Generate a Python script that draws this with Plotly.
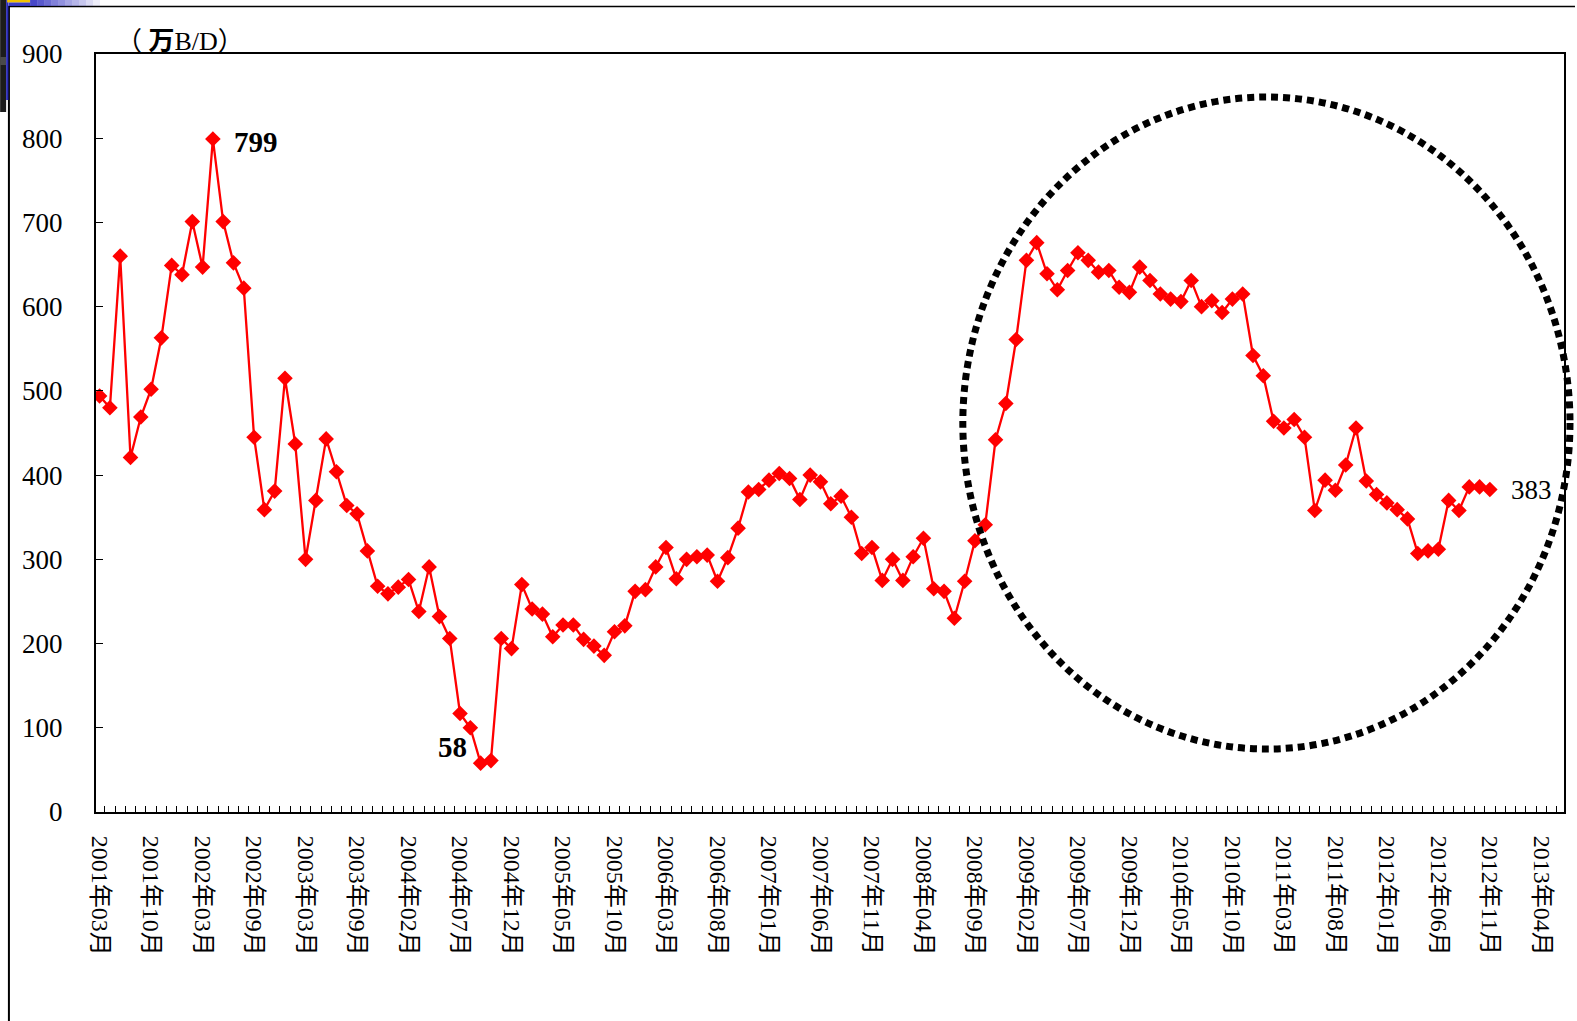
import plotly.graph_objects as go

# Monthly series (万B/D), one point per reported month
TICK_LABELS = [
    "2001年03月", "2001年10月", "2002年03月", "2002年09月", "2003年03月",
    "2003年09月", "2004年02月", "2004年07月", "2004年12月", "2005年05月",
    "2005年10月", "2006年03月", "2006年08月", "2007年01月", "2007年06月",
    "2007年11月", "2008年04月", "2008年09月", "2009年02月", "2009年07月",
    "2009年12月", "2010年05月", "2010年10月", "2011年03月", "2011年08月",
    "2012年01月", "2012年06月", "2012年11月", "2013年04月",
]
LABEL_STEP = 5          # one tick label every 5 reported months
N_SLOTS = 142           # category slots on the axis

VALUES = [
    494, 480, 660, 421, 469, 502, 563, 649, 638, 701,
    647, 799, 701, 652, 622, 445, 359, 381, 515, 437,
    300, 370, 443, 404, 364, 354, 310, 268, 259, 267,
    276, 238, 291, 232, 206, 117, 100, 58, 61, 206,
    194, 270, 241, 235, 208, 222, 222, 205, 197, 186,
    214, 221, 262, 264, 291, 314, 277, 300, 303, 305,
    274, 302, 337, 380, 383, 394, 402, 396, 371, 400,
    392, 366, 375, 350, 307, 314, 275, 300, 275, 303,
    325, 265, 262, 230, 274, 322, 341, 442, 485, 561,
    655, 676, 639, 620, 643, 664, 655, 641, 643, 623,
    617, 647, 631, 615, 609, 606, 631, 600, 607, 593,
    609, 615, 542, 518, 464, 456, 466, 445, 358, 394,
    382, 412, 456, 393, 377, 367, 359, 348, 307, 310,
    312, 370, 358, 386, 386, 383,
]

PEAK_IDX = 11
LOW_IDX = 37
LAST_IDX = len(VALUES) - 1

SERIF = "Liberation Serif, Noto Sans CJK SC, serif"
RED = "#FF0000"

W, H = 1577, 1021
ML, MR, MT, MB = 96, 11, 54, 209
PW, PH = W - ML - MR, H - MT - MB


def px(xpix):
    return (xpix - ML) / PW


def py(ypix):
    return (H - MB - ypix) / PH


x = list(range(len(VALUES)))

fig = go.Figure()
fig.add_trace(go.Scatter(
    x=x, y=VALUES, mode="lines+markers",
    line=dict(color=RED, width=2.3),
    marker=dict(symbol="diamond", size=12, color=RED, line=dict(width=0)),
    hoverinfo="y", showlegend=False,
))

annotations = [
    dict(x=PEAK_IDX, y=VALUES[PEAK_IDX], text=f"<b>{VALUES[PEAK_IDX]}</b>",
         xanchor="left", yanchor="middle", xshift=19, yshift=-3, showarrow=False,
         font=dict(family=SERIF, size=29, color="black")),
    dict(x=LOW_IDX, y=VALUES[LOW_IDX], text=f"<b>{VALUES[LOW_IDX]}</b>",
         xanchor="right", yanchor="middle", xshift=-12, yshift=16, showarrow=False,
         font=dict(family=SERIF, size=29, color="black")),
    dict(x=LAST_IDX, y=VALUES[LAST_IDX], text=f"{VALUES[LAST_IDX]}",
         xanchor="left", yanchor="middle", xshift=19, yshift=-1, showarrow=False,
         font=dict(family=SERIF, size=27, color="black")),
    dict(xref="paper", yref="paper", x=px(114), y=py(41), text="（ <b>万</b>B/D）",
         xanchor="left", yanchor="middle", showarrow=False,
         font=dict(family=SERIF, size=26, color="black")),
]

shapes = [
    # dotted ellipse highlighting the recent period
    dict(type="circle", xref="paper", yref="paper",
         x0=px(964), x1=px(1572), y0=py(749), y1=py(97),
         line=dict(color="black", width=7, dash="7px,5px"), layer="above"),
    # slide frame
    dict(type="line", xref="paper", yref="paper",
         x0=px(8.8), x1=px(8.8), y0=py(6), y1=py(H),
         line=dict(color="black", width=2)),
    dict(type="line", xref="paper", yref="paper",
         x0=px(8), x1=px(W), y0=py(6.5), y1=py(6.5),
         line=dict(color="black", width=1.5)),
    dict(type="rect", xref="paper", yref="paper",
         x0=px(0), x1=px(6), y0=py(112), y1=py(0),
         fillcolor="#1c1c1c", line=dict(width=0)),
    dict(type="rect", xref="paper", yref="paper",
         x0=px(0), x1=px(6), y0=py(65), y1=py(57),
         fillcolor="#4a4a4a", line=dict(width=0)),
    dict(type="rect", xref="paper", yref="paper",
         x0=px(6), x1=px(8.3), y0=py(100), y1=py(0),
         fillcolor="#2a2ab8", line=dict(width=0)),
    dict(type="rect", xref="paper", yref="paper",
         x0=px(7), x1=px(30), y0=py(2.5), y1=py(0),
         fillcolor="#f2c200", line=dict(width=0)),
]
# fading blue band at the top-left corner
steps = 10
for k in range(steps):
    a = 0.85 * (1 - k / steps)
    shapes.append(dict(type="rect", xref="paper", yref="paper",
                       x0=px(30 + 7 * k), x1=px(37 + 7 * k), y0=py(6), y1=py(0),
                       fillcolor=f"rgba(40,40,190,{a:.2f})", line=dict(width=0)))
shapes.append(dict(type="rect", xref="paper", yref="paper",
                   x0=px(8.5), x1=px(30), y0=py(6), y1=py(2.5),
                   fillcolor="rgba(40,40,190,0.9)", line=dict(width=0)))

fig.update_layout(
    width=W, height=H,
    margin=dict(l=ML, r=MR, t=MT, b=MB, pad=0),
    paper_bgcolor="white", plot_bgcolor="white",
    annotations=annotations, shapes=shapes,
    xaxis=dict(
        range=[-0.35, N_SLOTS + 0.2],
        tickmode="array",
        tickvals=[i * LABEL_STEP for i in range(len(TICK_LABELS))],
        ticktext=TICK_LABELS,
        tickangle=90,
        ticks="",
        ticklabelstandoff=17,
        tickfont=dict(family=SERIF, size=24, color="black"),
        minor=dict(tickmode="linear", tick0=0.5, dtick=1, ticks="inside",
                   ticklen=6, tickwidth=1, tickcolor="black", showgrid=False),
        showline=True, linecolor="black", linewidth=2, mirror=True,
        showgrid=False, zeroline=False,
    ),
    yaxis=dict(
        range=[0, 900], tickmode="linear", tick0=0, dtick=100,
        ticks="inside", ticklen=7, tickwidth=1, tickcolor="black",
        ticklabelstandoff=26,
        tickfont=dict(family=SERIF, size=27, color="black"),
        showline=True, linecolor="black", linewidth=2, mirror=True,
        showgrid=False, zeroline=False,
    ),
)

fig.write_html("out.html")
